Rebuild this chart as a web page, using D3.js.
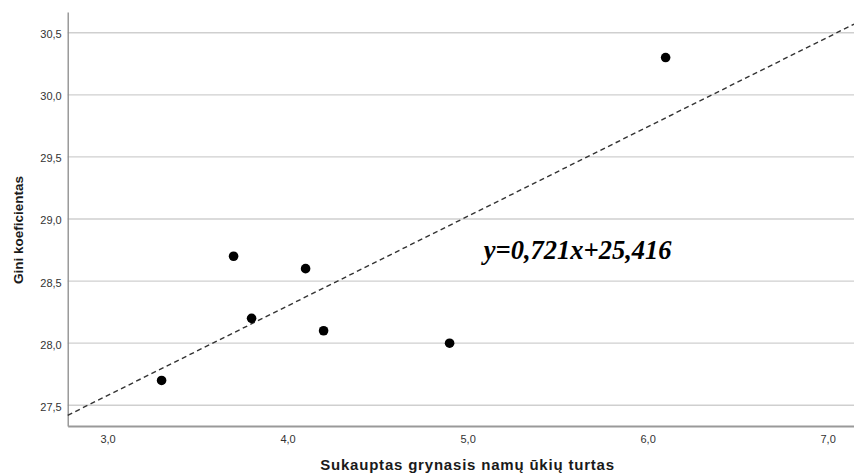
<!DOCTYPE html>
<html>
<head>
<meta charset="utf-8">
<script src="https://cdn.jsdelivr.net/npm/d3@7"></script>
<style>
  html, body { margin: 0; padding: 0; background: #fff; }
  svg { display: block; }
</style>
</head>
<body>
<svg id="chart" width="854" height="473"></svg>
<script>
// ---- data ----
const xValues = [3.3, 3.7, 3.8, 4.1, 4.2, 4.9, 6.1];
const yValues = [27.7, 28.7, 28.2, 28.6, 28.1, 28.0, 30.3];
const xTicks = [3.0, 4.0, 5.0, 6.0, 7.0];
const yTicks = [27.5, 28.0, 28.5, 29.0, 29.5, 30.0, 30.5];
const fitSlope = 0.721;
const fitIntercept = 25.416;
const equationLabel = "y=0,721x+25,416";
const xTitle = "Sukauptas grynasis namų ūkių turtas";
const yTitle = "Gini koeficientas";

(function () {
// ---- layout ----
const svg = d3.select("#chart");
const mLeft = 67.7, mRight = 854, mTop = 12, mBottom = 426;
const x = d3.scaleLinear().domain([2.7785, 7.1465]).range([mLeft, mRight]);
const y = d3.scaleLinear().domain([27.3331, 30.6669]).range([mBottom, mTop]);
const fmt = d => d.toFixed(1).replace(".", ",");

// gridlines
svg.append("g")
  .selectAll("line").data(yTicks).join("line")
  .attr("x1", mLeft).attr("x2", mRight)
  .attr("y1", d => y(d)).attr("y2", d => y(d))
  .attr("stroke", "#cfcfcf").attr("stroke-width", 1.3);

// y axis
const yAxis = svg.append("g").attr("transform", `translate(${mLeft},0)`)
  .call(d3.axisLeft(y).tickValues(yTicks).tickFormat(fmt).tickSize(0).tickPadding(6));
yAxis.select(".domain").attr("stroke", "#8a8a8a").attr("stroke-width", 1.3);
yAxis.selectAll("text").attr("font-family", "Liberation Sans, Arial, sans-serif")
  .attr("font-size", 11).attr("fill", "#333").attr("dy", "0.45em");

// x axis
const xAxis = svg.append("g").attr("transform", `translate(0,${mBottom})`)
  .call(d3.axisBottom(x).tickValues(xTicks).tickFormat(fmt).tickSize(0).tickPadding(9));
xAxis.select(".domain").attr("stroke", "#999").attr("stroke-width", 2);
xAxis.selectAll("text").attr("font-family", "Liberation Sans, Arial, sans-serif")
  .attr("font-size", 11).attr("fill", "#333");

// fit line
const xd = x.domain();
svg.append("line")
  .attr("x1", x(xd[0])).attr("y1", y(fitSlope * xd[0] + fitIntercept))
  .attr("x2", x(xd[1])).attr("y2", y(fitSlope * xd[1] + fitIntercept))
  .attr("stroke", "#333").attr("stroke-width", 1.4)
  .attr("stroke-dasharray", "5,3.5");

// points
svg.append("g").selectAll("circle").data(xValues).join("circle")
  .attr("cx", d => x(d)).attr("cy", (d, i) => y(yValues[i]))
  .attr("r", 4.8).attr("fill", "#000");

// equation
svg.append("text")
  .attr("x", x(5.09)).attr("y", y(28.68))
  .attr("font-family", "Liberation Serif, Times New Roman, serif")
  .attr("font-style", "italic").attr("font-weight", "bold")
  .attr("font-size", 26.5).attr("fill", "#000")
  .text(equationLabel);

// axis titles
svg.append("text")
  .attr("x", 467.5).attr("y", 470)
  .attr("text-anchor", "middle")
  .attr("font-family", "Liberation Sans, Arial, sans-serif")
  .attr("font-size", 15).attr("font-weight", "bold").attr("fill", "#1a1a1a")
  .attr("letter-spacing", 0.8)
  .text(xTitle);

svg.append("text")
  .attr("transform", "translate(22.5,230) rotate(-90)")
  .attr("text-anchor", "middle")
  .attr("font-family", "Liberation Sans, Arial, sans-serif")
  .attr("font-size", 13.5).attr("font-weight", "bold").attr("fill", "#1a1a1a")
  .text(yTitle);
})();
</script>
</body>
</html>
